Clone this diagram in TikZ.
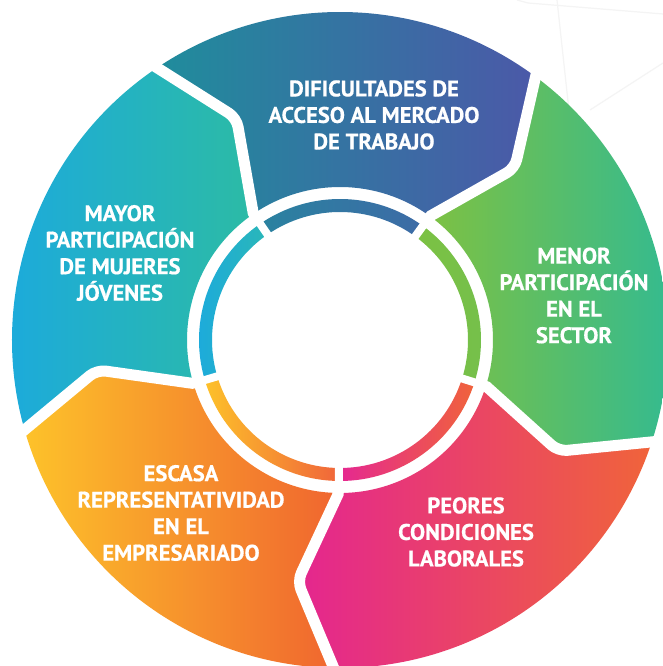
\documentclass[tikz,border=0pt]{standalone}
\usepackage{fontspec}
\setmainfont{PT Sans}[BoldFeatures={FakeBold=0.6}]
\definecolor{mayorL}{HTML}{1BA9E0}
\definecolor{mayorR}{HTML}{2CBBA5}
\definecolor{difL}{HTML}{1F8D9C}
\definecolor{difR}{HTML}{4B59A8}
\definecolor{menorL}{HTML}{7DC143}
\definecolor{menorR}{HTML}{2DBA97}
\definecolor{peorL}{HTML}{E4268F}
\definecolor{peorR}{HTML}{F0643A}
\definecolor{escL}{HTML}{FDC22A}
\definecolor{escR}{HTML}{F0652F}
\definecolor{arcTopL}{HTML}{2A82A0}
\definecolor{arcTopR}{HTML}{3D6BA6}
\definecolor{arcGrL}{HTML}{7CC143}
\definecolor{arcGrR}{HTML}{74C04C}
\definecolor{arcBlL}{HTML}{1BA9E0}
\definecolor{arcBlR}{HTML}{2AB7B8}
\definecolor{arcPkL}{HTML}{E52891}
\definecolor{arcPkR}{HTML}{F0633B}
\definecolor{arcEsL}{HTML}{FDC12A}
\definecolor{arcEsR}{HTML}{F0653A}
\definecolor{faint}{HTML}{F4F4F4}
\def\Rout{328}
\def\Rext{336}
\def\Rin{153}
\def\Rmid{245}
\def\Dl{9.5}
\def\Ra{141}
\def\Rb{128}
\newcommand\mysegment[4]{%
  \shade[left color=#3, right color=#4]
    (#1:\Rout) arc[start angle=#1, end angle=#2, radius=\Rout]
    -- (#2-\Dl:\Rmid) -- (#2:\Rin)
    arc[start angle=#2, end angle=#1, radius=\Rin]
    -- (#1-\Dl:\Rmid) -- cycle;}
\newcommand\myringarc[4]{%
  \shade[left color=#3, right color=#4]
    (#1:\Ra) arc[start angle=#1, end angle=#2, radius=\Ra]
    -- (#2:\Rb) arc[start angle=#2, end angle=#1, radius=\Rb] -- cycle;}
\newcommand\mygap[1]{%
  \draw[gapline] (#1:\Rin) -- (#1-\Dl:\Rmid) -- (#1:\Rext);
  \draw[ringgap] (#1:118) -- (#1:150);}
\begin{document}
\begin{tikzpicture}[x=1pt, y=1pt,
  seglabel/.style={text=white, font=\bfseries\fontsize{22.6}{26.5}\selectfont,
    align=center, inner sep=0pt},
  gapline/.style={draw=white, line width=11pt, rounded corners=9pt,
    line cap=round, line join=round},
  ringgap/.style={draw=white, line width=8pt},
  faintline/.style={draw=faint, line width=1.2pt}]
\useasboundingbox (0,0) rectangle (663,666);
\fill[white] (0,0) rectangle (663,666);
% faint background texture
\draw[faintline] (517,666) -- (528,663) -- (663,652);
\draw[faintline] (557,666) -- (570,546);
\draw[faintline] (663,603) -- (590,556);
\begin{scope}[shift={(340,326)}]
  % outer segments (clockwise arrows)
  \mysegment{196.5}{124.5}{mayorL}{mayorR}
  \mysegment{124.5}{54}{difL}{difR}
  \mysegment{54}{-17.5}{menorL}{menorR}
  \mysegment{-17.5}{-90.5}{peorL}{peorR}
  \mysegment{269.5}{196.5}{escL}{escR}
  % inner ring arcs
  \myringarc{196.5}{124.5}{arcBlL}{arcBlR}
  \myringarc{124.5}{54}{arcTopL}{arcTopR}
  \myringarc{54}{-17.5}{arcGrL}{arcGrR}
  \myringarc{-17.5}{-90.5}{arcPkL}{arcPkR}
  \myringarc{269.5}{196.5}{arcEsL}{arcEsR}
  % white gaps
  \mygap{124.5}
  \mygap{54}
  \mygap{-17.5}
  \mygap{-90.5}
  \mygap{196.5}
\end{scope}
\node[seglabel] (dif) at (374,551) {DIFICULTADES DE\\ACCESO AL MERCADO\\DE TRABAJO};
\node[seglabel] (mayor) at (120,413) {MAYOR\\PARTICIPACIÓN\\DE MUJERES\\JÓVENES};
\node[seglabel] (menor) at (574,370.5) {MENOR\\PARTICIPACIÓN\\EN EL\\SECTOR};
\node[seglabel] (escasa) at (181,153) {ESCASA\\REPRESENTATIVIDAD\\EN EL\\EMPRESARIADO};
\node[seglabel] (peores) at (466,134) {PEORES\\CONDICIONES\\LABORALES};
\end{tikzpicture}
\end{document}
